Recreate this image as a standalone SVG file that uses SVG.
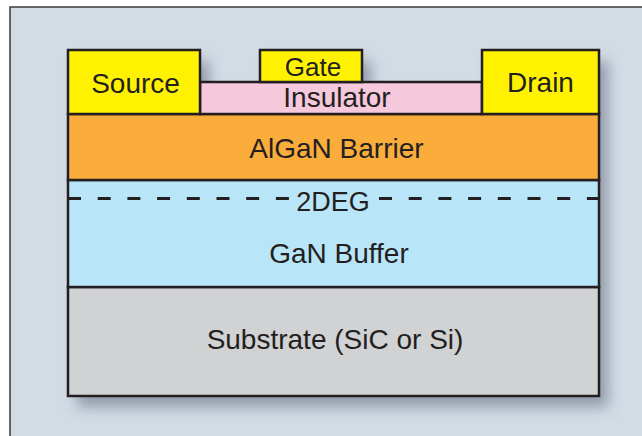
<svg xmlns="http://www.w3.org/2000/svg" width="642" height="436" viewBox="0 0 642 436">
<style>
.layer{stroke:#231f20;stroke-width:2.5}
.lbl{font-family:"Liberation Sans",Arial,sans-serif;font-size:28px;fill:#231f20;text-anchor:middle}
.dash{stroke:#231f20;stroke-width:3;stroke-dasharray:13 16.7;fill:none}
</style>
<defs>
<filter id="shadow" x="-20%" y="-20%" width="140%" height="140%">
<feGaussianBlur stdDeviation="7"/>
</filter>
</defs>
<rect x="0" y="0" width="642" height="436" fill="#ffffff"/>
<rect id="frame" x="10" y="7" width="640" height="440" fill="#d3dbe5" stroke="#3a3a3a" stroke-width="1.5"/>
<path d="M68,50 H200 V82 H260 V50 H362 V82 H482 V50 H599 V396 H68 Z" transform="translate(9,11)" fill="#7b8596" opacity="0.75" filter="url(#shadow)"/>
<g id="substrate">
<rect class="layer" x="68" y="287" width="531" height="109" fill="#d1d2d4"/>
<text class="lbl" x="335" y="349">Substrate (SiC or Si)</text>
</g>
<g id="gan-buffer">
<rect class="layer" x="68" y="180" width="531" height="107" fill="#b9e5f9"/>
<line class="dash" x1="68" y1="198.5" x2="289" y2="198.5"/>
<line class="dash" x1="379" y1="198.5" x2="599" y2="198.5"/>
<text class="lbl" x="333" y="211" style="font-size:27px">2DEG</text>
<text class="lbl" x="339" y="263">GaN Buffer</text>
</g>
<g id="algan-barrier">
<rect class="layer" x="68" y="114" width="531" height="66" fill="#fbad3c"/>
<text class="lbl" x="336.5" y="158">AlGaN Barrier</text>
</g>
<g id="insulator">
<rect class="layer" x="200" y="82" width="282" height="32" fill="#f6c8dc"/>
<text class="lbl" x="337" y="107">Insulator</text>
</g>
<g id="source">
<rect class="layer" x="68" y="50" width="132" height="64" fill="#fff200"/>
<text class="lbl" x="135.5" y="93">Source</text>
</g>
<g id="gate">
<rect class="layer" x="260" y="50" width="102" height="32" fill="#fff200"/>
<text class="lbl" x="313" y="76" style="font-size:26px">Gate</text>
</g>
<g id="drain">
<rect class="layer" x="482" y="50" width="117" height="64" fill="#fff200"/>
<text class="lbl" x="540.5" y="92">Drain</text>
</g>
<g id="connectors"/>
</svg>
